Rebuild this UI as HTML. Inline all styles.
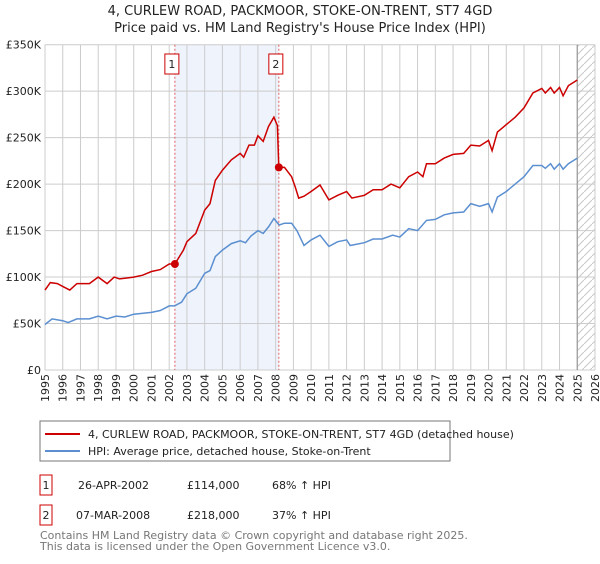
<!DOCTYPE html>
<html><head><meta charset="utf-8"><style>
body{margin:0;background:#fff;font-family:"DejaVu Sans","Liberation Sans",sans-serif;}
svg text{font-family:"DejaVu Sans","Liberation Sans",sans-serif;}
</style></head><body>
<svg id="c" width="600" height="560" viewBox="0 0 600 560" xmlns="http://www.w3.org/2000/svg">
<defs><pattern id="hatch" width="8" height="8" patternUnits="userSpaceOnUse"><path d="M0,8 L8,0" stroke="#c8c8c8" stroke-width="1"/></pattern></defs>
<text x="300" y="15" text-anchor="middle" font-size="13" fill="#222">4, CURLEW ROAD, PACKMOOR, STOKE-ON-TRENT, ST7 4GD</text>
<text x="300" y="32" text-anchor="middle" font-size="13" fill="#222">Price paid vs. HM Land Registry's House Price Index (HPI)</text>
<g id="plot"></g>
<rect x="40" y="421" width="410" height="40" fill="#fff" stroke="#777"/>
<line x1="45" y1="434" x2="80" y2="434" stroke="#cc0000" stroke-width="2"/>
<text x="88" y="438" font-size="11" fill="#222">4, CURLEW ROAD, PACKMOOR, STOKE-ON-TRENT, ST7 4GD (detached house)</text>
<line x1="45" y1="451" x2="80" y2="451" stroke="#5b8fd0" stroke-width="2"/>
<text x="88" y="455" font-size="11" fill="#222">HPI: Average price, detached house, Stoke-on-Trent</text>
<g font-size="11" fill="#222">
<rect x="40" y="475" width="12" height="20" fill="#fff" stroke="#cc0000"/>
<text x="46" y="489" text-anchor="middle">1</text>
<text x="78" y="489">26-APR-2002</text>
<text x="187" y="489">£114,000</text>
<text x="272" y="489">68% ↑ HPI</text>
<rect x="40" y="505" width="12" height="20" fill="#fff" stroke="#cc0000"/>
<text x="46" y="519" text-anchor="middle">2</text>
<text x="76" y="519">07-MAR-2008</text>
<text x="187" y="519">£218,000</text>
<text x="272" y="519">37% ↑ HPI</text>
</g>
<text x="40" y="539" font-size="11" fill="#777">Contains HM Land Registry data © Crown copyright and database right 2025.</text>
<text x="40" y="550" font-size="11" fill="#777">This data is licensed under the Open Government Licence v3.0.</text>
</svg>
<script>
const hpiYears=[1995,1995.4,1996,1996.3,1996.8,1997.5,1998,1998.5,1999,1999.5,2000,2001,2001.5,2002,2002.3,2002.7,2003,2003.5,2004,2004.3,2004.6,2005,2005.5,2006,2006.3,2006.6,2007,2007.3,2007.6,2007.9,2008.2,2008.5,2008.9,2009.2,2009.6,2010,2010.5,2011,2011.5,2012,2012.2,2013,2013.5,2014,2014.6,2015,2015.5,2016,2016.5,2017,2017.5,2018,2018.6,2019,2019.5,2020,2020.2,2020.5,2021,2021.5,2022,2022.5,2023,2023.2,2023.5,2023.7,2024,2024.2,2024.5,2025];
const hpiValues=[49,55,53,51,55,55,58,55,58,57,60,62,64,69,69,73,82,88,104,107,122,129,136,139,137,144,150,147,154,163,156,158,158,150,134,140,145,133,138,140,134,137,141,141,145,143,152,150,161,162,167,169,170,179,176,179,170,186,192,200,208,220,220,217,222,216,222,216,222,228];
const priceYears=[1995,1995.3,1995.7,1996,1996.4,1996.8,1997.5,1998,1998.5,1998.9,1999.2,2000,2000.5,2001,2001.5,2002,2002.32,2002.8,2003,2003.5,2004,2004.3,2004.6,2005,2005.5,2006,2006.2,2006.5,2006.8,2007,2007.3,2007.6,2007.9,2008.1,2008.18,2008.5,2008.9,2009.1,2009.3,2009.6,2010,2010.5,2011,2011.5,2012,2012.3,2013,2013.5,2014,2014.5,2015,2015.5,2016,2016.3,2016.5,2017,2017.5,2018,2018.6,2019,2019.5,2020,2020.2,2020.5,2021,2021.5,2022,2022.5,2023,2023.2,2023.5,2023.7,2024,2024.2,2024.5,2025];
const priceValues=[86,94,93,90,86,93,93,100,93,100,98,100,102,106,108,114,114,129,138,147,172,179,204,215,226,233,229,242,242,252,246,262,272,263,218,218,208,197,185,187,192,199,183,188,192,185,188,194,194,200,196,208,213,208,222,222,228,232,233,242,241,247,236,256,264,272,282,298,303,298,304,298,304,295,306,312];
const saleYears=[2002.32,2008.18];
const saleValues=[114,218];
const saleLabels=["1","2"];
const yTicks=[0,50,100,150,200,250,300,350];
const yTickLabels=["£0","£50K","£100K","£150K","£200K","£250K","£300K","£350K"];
const xTicks=[1995,1996,1997,1998,1999,2000,2001,2002,2003,2004,2005,2006,2007,2008,2009,2010,2011,2012,2013,2014,2015,2016,2017,2018,2019,2020,2021,2022,2023,2024,2025,2026];

const L=45,R=595,T=44.7,B=370,X0=1995,X1=2026,YMAX=350;
const xs=y=>L+(y-X0)/(X1-X0)*(R-L);
const ys=v=>B-v/YMAX*(B-T);
const NS="http://www.w3.org/2000/svg";
const g=document.getElementById('plot');
function mk(t,a){const e=document.createElementNS(NS,t);for(const k in a)e.setAttribute(k,a[k]);g.appendChild(e);return e;}

let e=mk('rect',{x:xs(saleYears[0]),y:T,width:xs(saleYears[1])-xs(saleYears[0]),height:B-T,fill:'#eef3fc'});


e=mk('rect',{x:xs(2025),y:T,width:R-xs(2025),height:B-T,fill:'url(#hatch)'});


xTicks.forEach(t=>{
  const l=mk('line',{x1:xs(t),x2:xs(t),y1:T,y2:B,stroke:'#cccccc','stroke-width':1});
  
  
  const x=xs(t)+4,y=B+4;
  const tx=mk('text',{x:x,y:y,'font-size':11,fill:'#222','text-anchor':'end',transform:`rotate(-90 ${x} ${y})`});
  tx.textContent=t;
  
  
});
yTicks.forEach((t,i)=>{
  const l=mk('line',{x1:L,x2:R,y1:ys(t),y2:ys(t),stroke:'#cccccc','stroke-width':1});
  
  
  const tx=mk('text',{x:L-4,y:ys(t)+4,'font-size':11,fill:'#222','text-anchor':'end'});
  tx.textContent=yTickLabels[i];
  
  
});
e=mk('line',{x1:xs(2025),x2:xs(2025),y1:T,y2:B,stroke:'#999','stroke-width':1.2});


saleYears.forEach((s,i)=>{
  const l=mk('line',{x1:xs(s),x2:xs(s),y1:T,y2:B,stroke:'#e06060','stroke-width':1,'stroke-dasharray':'2,2'});
  
  
});
function path(xa,va){return xa.map((x,i)=>(i?'L':'M')+xs(x).toFixed(1)+','+ys(va[i]).toFixed(1)).join(' ');}
e=mk('path',{d:path(hpiYears,hpiValues),fill:'none',stroke:'#5b8fd0','stroke-width':1.5});


e=mk('path',{d:path(priceYears,priceValues),fill:'none',stroke:'#cc0000','stroke-width':1.5});


saleYears.forEach((s,i)=>{
  const c=mk('circle',{cx:xs(s),cy:ys(saleValues[i]),r:4,fill:'#cc0000'});
  
  
  const b=mk('rect',{x:xs(s)-10,y:54,width:14,height:20,fill:'#fff',stroke:'#cc0000'});
  
  
  const t=mk('text',{x:xs(s)-3,y:68,'font-size':11,'text-anchor':'middle',fill:'#222'});
  t.textContent=saleLabels[i];
  
  
});
</script>
</body></html>
